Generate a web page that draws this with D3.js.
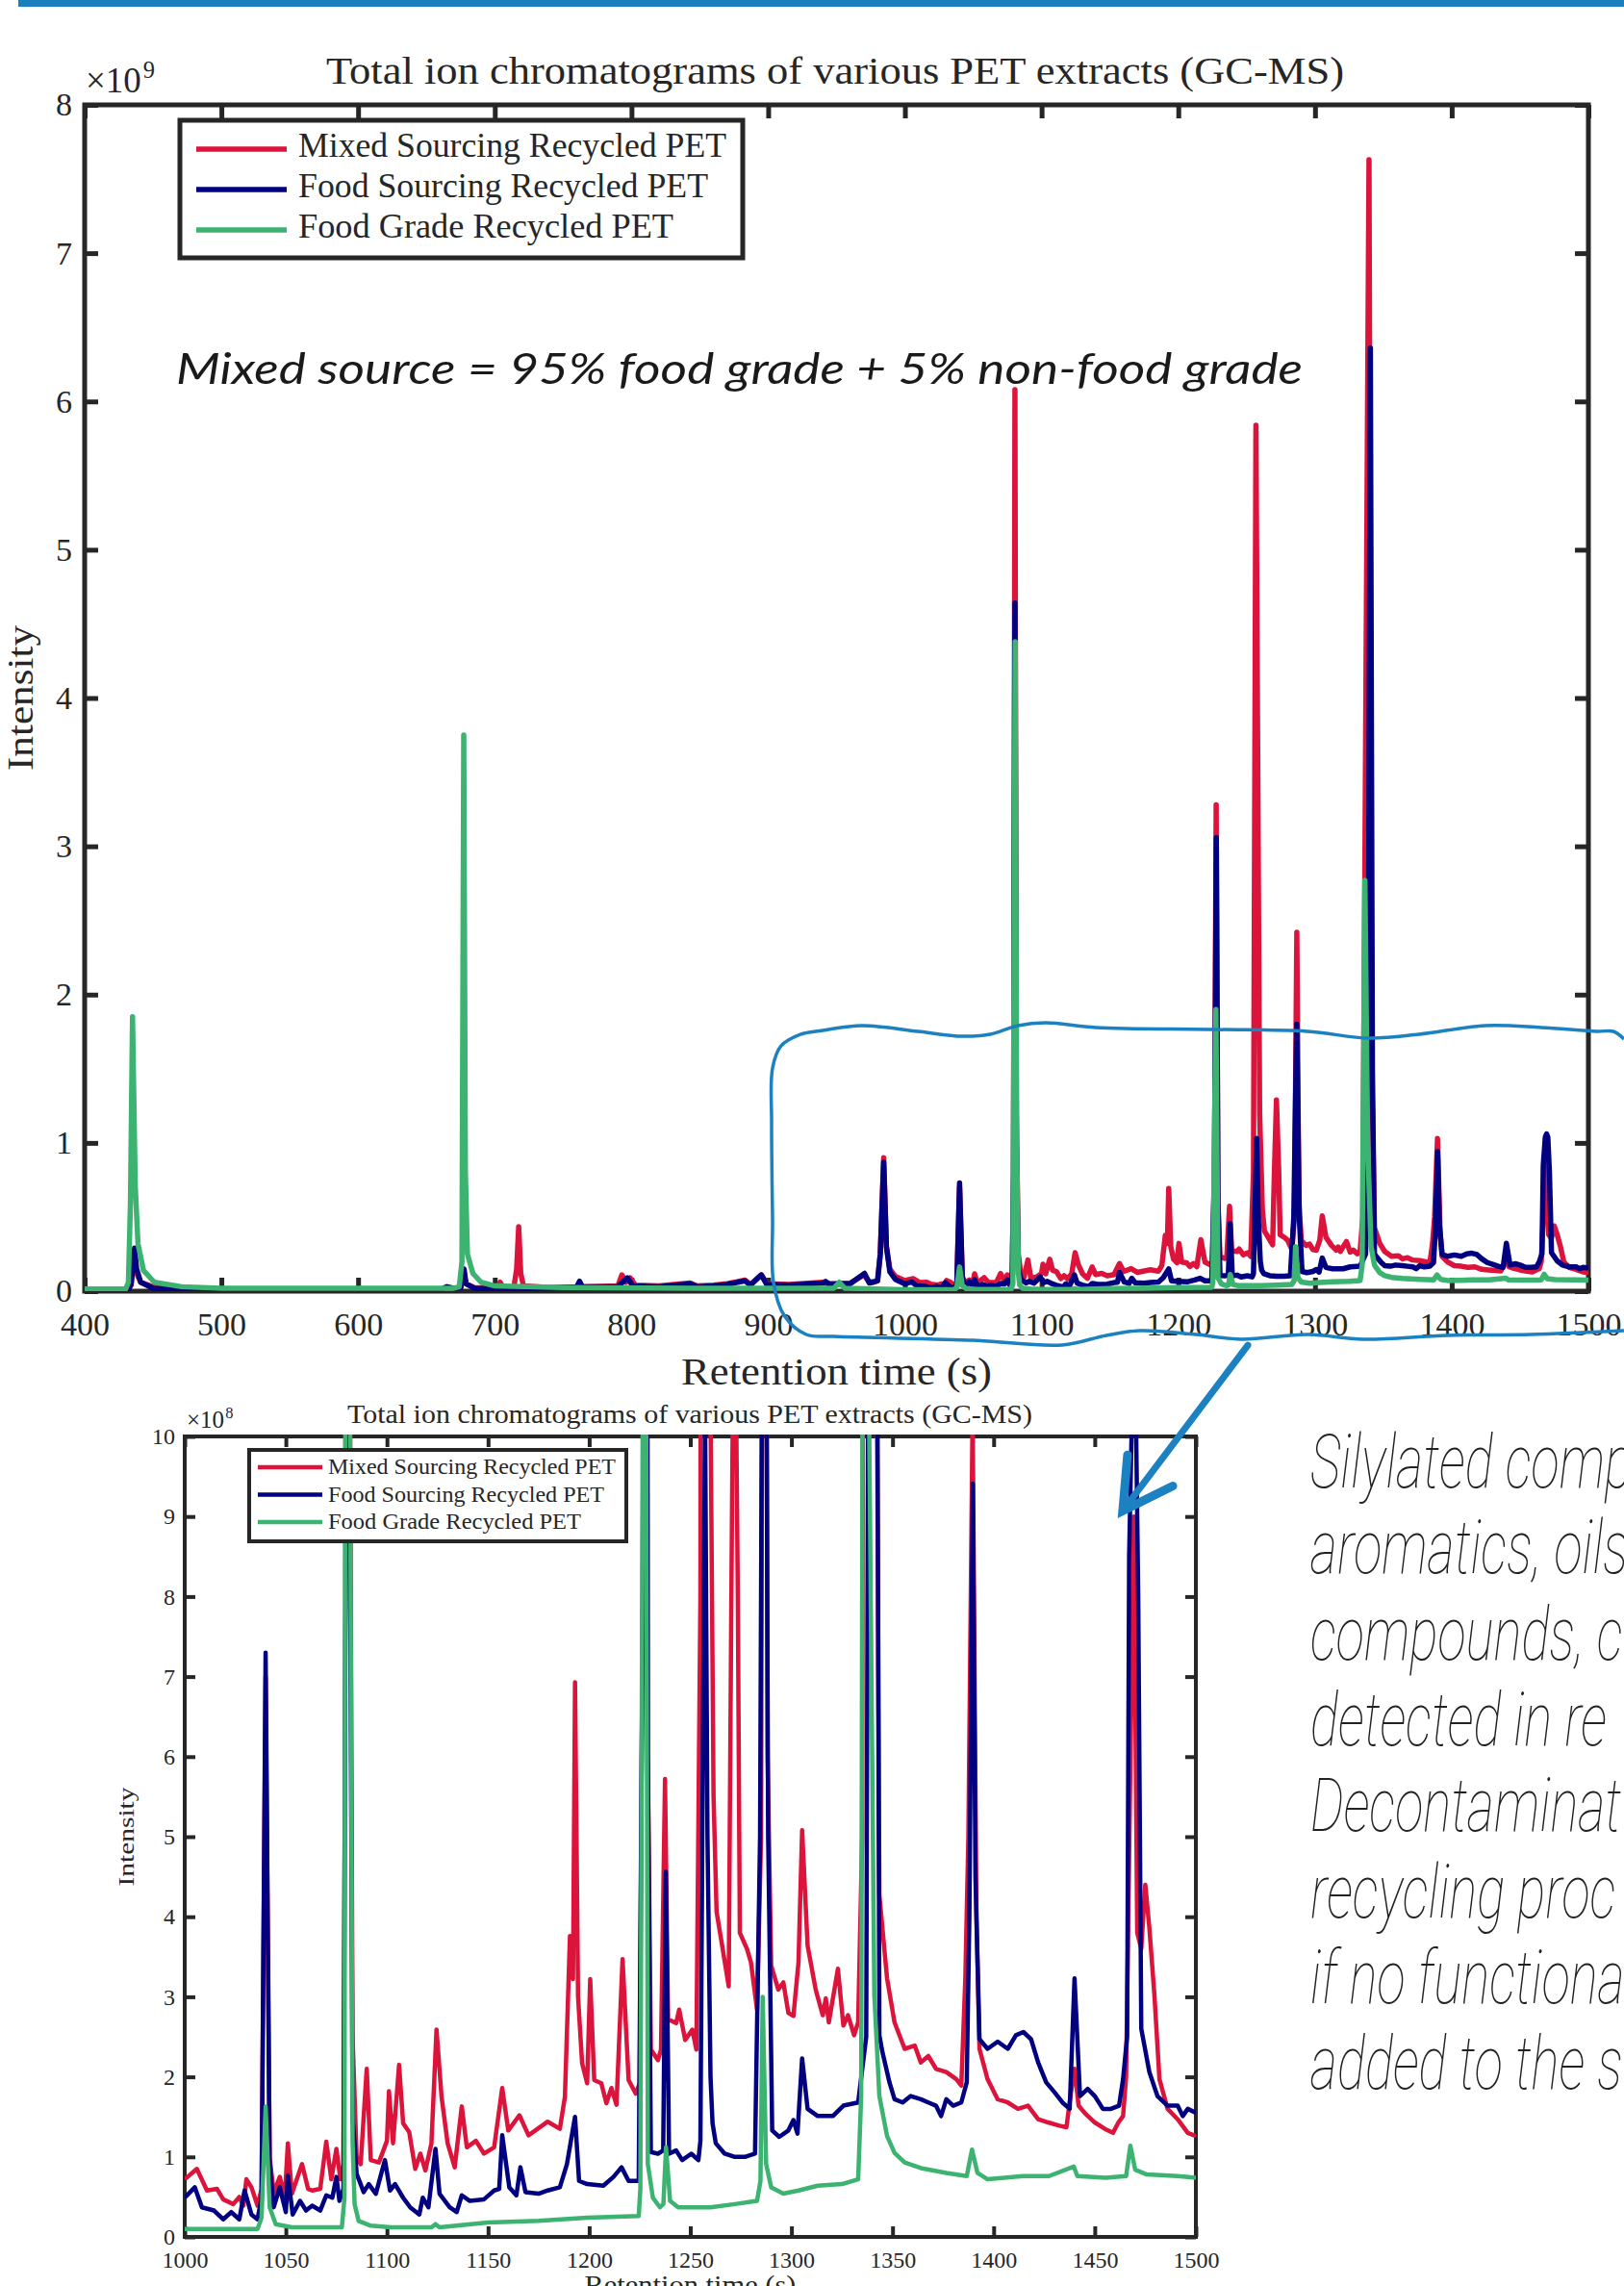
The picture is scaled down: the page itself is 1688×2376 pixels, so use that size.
<!DOCTYPE html>
<meta charset="utf-8">
<style>
  body { margin: 0; background: #fff; }
  svg { display: block; overflow: hidden; }
  .serif { font-family: "Liberation Serif", "DejaVu Serif", serif; fill: #262626; }
  .tick text { font-family: "Liberation Serif", "DejaVu Serif", serif; fill: #262626; }
  .note { font-family: "Lato", "Open Sans", sans-serif; font-style: italic; fill: #1a1a1a; }
  .side { font-family: "Roboto", "Open Sans", sans-serif; font-style: italic; font-weight: 100; fill: #222; }
</style>
<body>
<script src="https://d3js.org/d3.v7.min.js"></script>
<script>
// retention time (s), intensity in units of 1e8 counts
var mixedSourcing = [
  [400,0.1],[430,0.1],[434,0.4],[436,2.5],[438,1.2],[441,0.6],[450,0.3],[480,0.15],[560,0.15],[600,0.12],[660,0.15],
  [675,0.2],[677.5,1.2],[679,0.5],[685,0.25],[700,0.2],[702,0.3],[704,0.6],[706,0.25],[714,0.25],[716,1.5],[717.5,4.35],
  [719,1.2],[721,0.35],[740,0.25],[760,0.3],[762,0.6],[764,0.3],[790,0.35],[793,1.1],[796,0.6],[799,0.9],[803,0.4],
  [820,0.35],[843,0.55],[848,0.35],[860,0.4],[870,0.5],[883,0.75],[887,0.45],[895,1.1],[899,0.5],[915,0.45],[940,0.6],
  [943,0.5],[960,0.55],[970,1.1],[974,0.6],[980,0.7],[982,2.5],[984.5,9.0],[986.5,3],[989,1.5],[993,1.0],
  [1000,0.72],[1006,0.85],[1011,0.58],[1016,0.6],[1019,0.47],[1024,0.41],[1027,0.5],[1029,0.39],[1030.5,0.72],[1033,0.62],
  [1036,0.39],[1038,0.6],[1040,7.0],[1042,1.0],[1044,0.55],[1047,0.75],[1049.5,0.5],[1051,1.17],[1053,0.54],[1058,0.91],
  [1061,0.6],[1063,0.58],[1067,0.6],[1070,1.19],[1072.5,0.72],[1075,1.1],[1077,0.72],[1078.5,0.9],[1079.5,8],[1080.5,60.8],
  [1081.5,12],[1083,2.5],[1085,1.0],[1087,0.91],[1090,2.1],[1092,0.96],[1096,0.93],[1100,1.2],[1101,1.82],[1103,1.17],
  [1106,2.15],[1108,1.42],[1111,1.31],[1114,0.85],[1116.5,1.04],[1119,0.83],[1122,1.17],[1124.5,2.59],[1127,1.75],
  [1130,1.17],[1133.5,0.87],[1137,1.63],[1139.5,1.12],[1144,1.2],[1148,1.04],[1153,1.12],[1157,1.86],[1160,1.33],
  [1165.5,1.52],[1170,1.27],[1179.5,1.44],[1185.5,1.35],[1188,1.75],[1190.5,3.76],[1192,3.22],[1193,6.93],[1194.5,3.0],
  [1196.5,2.17],[1199,1.92],[1200.5,3.22],[1202.5,1.96],[1206,1.92],[1208.5,1.67],[1211,1.86],[1213.5,1.65],[1216.5,3.47],
  [1219.5,1.96],[1223,1.79],[1225,1.92],[1226.5,8],[1227.7,32.8],[1229,6],[1230.5,2.34],[1234,2.21],[1235.5,2.34],
  [1237.5,5.72],[1239,2.72],[1243,2.67],[1244.5,2.84],[1247.5,2.46],[1251,2.59],[1253,2.34],[1255,8],[1256.8,58.4],
  [1259.5,12],[1261.5,5.5],[1263,4.06],[1266,3.6],[1269,3.13],[1270.3,8],[1271.8,12.9],[1273.5,8],[1274.5,3.8],[1278,3.6],
  [1280,3.43],[1283,2.84],[1285,5],[1286.7,24.2],[1288.2,6],[1290,3.39],[1293.5,3.09],[1296,3.18],[1298.5,2.8],[1301,2.76],
  [1303.5,3.43],[1305.3,5.08],[1308,3.64],[1312,3.09],[1315.5,2.77],[1317,2.98],[1318.5,2.68],[1323,3.35],[1325.7,2.64],
  [1328,2.77],[1331,2.52],[1333,2.68],[1335,5],[1339.5,76.3],[1341.5,15],[1343.5,4.27],[1347.3,3.23],[1351,2.68],
  [1356,2.35],[1361,2.39],[1364,2.18],[1367.7,2.26],[1371.5,2.1],[1376.6,2.06],[1381.6,1.97],[1384,1.89],[1386,3.23],
  [1387.5,5],[1389.6,10.3],[1391.5,4],[1393,2.35],[1397,1.97],[1402,1.72],[1407,1.68],[1412,1.6],[1417,1.64],[1422,1.47],
  [1427,1.43],[1432.5,1.39],[1436,1.37],[1438,1.76],[1440,2.1],[1442,1.64],[1445,1.55],[1450,1.43],[1455,1.35],[1459,1.3],
  [1461.7,1.43],[1464,1.51],[1465.5,2.0],[1469.3,9.0],[1471,3.8],[1473,3.6],[1475,4.4],[1477,3.86],[1479.5,3.02],
  [1482,1.97],[1486,1.6],[1491,1.47],[1496,1.3],[1500,1.26]
];

var foodSourcing = [
  [400,0.05],[432,0.05],[434,0.5],[436.5,2.9],[438,1.5],[441,0.6],[450,0.2],[480,0.1],[560,0.1],[660,0.1],[665,0.3],
  [670,0.2],[675,0.2],[677.5,1.5],[679,0.5],[685,0.2],[700,0.15],[740,0.2],[760,0.3],[762,0.67],[764,0.3],[790,0.3],
  [797,0.9],[801,0.35],[820,0.3],[843,0.5],[848,0.3],[860,0.35],[870,0.45],[883,0.7],[887,0.4],[895,1.1],[899,0.45],
  [915,0.4],[940,0.55],[942,0.66],[945,0.45],[960,0.5],[970.5,1.2],[974,0.55],[977,0.6],[980,0.7],[982,2.5],[984.5,8.7],
  [986.5,3],[989,1.3],[993,0.8],
  [1000,0.49],[1005,0.62],[1008.5,0.37],[1014.5,0.33],[1019,0.22],[1023,0.31],[1027,0.22],[1029.6,0.58],[1033,0.28],
  [1036,0.22],[1038,0.49],[1040,7.3],[1042,0.91],[1044,0.37],[1047,0.62],[1050,0.31],[1051,0.77],[1053.4,0.28],[1057,0.45],
  [1060,0.33],[1063,0.39],[1067,0.33],[1070,0.52],[1073,0.49],[1075,0.75],[1076.5,0.45],[1078.5,0.6],[1079.5,8],
  [1080.5,46.4],[1081.5,10],[1083,1.5],[1085,0.79],[1088.5,0.56],[1091,0.66],[1094.5,0.54],[1099,0.96],[1101.5,0.58],
  [1104,0.66],[1108,0.49],[1111.5,0.37],[1116,0.28],[1117.7,0.49],[1120.5,0.37],[1124,1.1],[1126,0.54],[1131,0.37],
  [1134.5,0.31],[1137,0.52],[1141,0.45],[1148,0.47],[1153,0.58],[1155.5,0.6],[1157,1.27],[1160.5,0.62],[1164,0.52],
  [1166,0.87],[1168.5,0.56],[1175,0.54],[1179.5,0.58],[1185.5,0.62],[1189,0.91],[1193,1.5],[1195,0.7],[1199,0.66],
  [1207,0.64],[1212,0.75],[1216,0.87],[1219.5,0.7],[1224.5,0.7],[1226.5,8],[1227.8,30.6],[1229,6],[1230.5,1.06],
  [1234,1.04],[1236.6,1.08],[1237.9,4.56],[1239.5,1.04],[1243,1.08],[1246,0.96],[1250.5,1.04],[1254,0.96],[1255,1.2],
  [1256.2,6],[1257.3,10.3],[1258.5,5],[1260,2.0],[1261,1.42],[1262.6,1.17],[1267,1.04],[1272,1.0],[1277,1.0],[1282,1.04],
  [1284.5,5],[1286.6,18],[1288.5,5],[1290.5,1.33],[1294,1.25],[1298.5,1.33],[1301,1.46],[1303,1.29],[1305.3,2.23],
  [1308,1.6],[1313,1.51],[1320.5,1.51],[1325.7,1.64],[1333,1.68],[1337,2.5],[1339,20],[1340.5,63.6],[1342,15],
  [1343.5,2.52],[1345,2.31],[1348.5,1.93],[1351,1.72],[1355,1.68],[1359,1.76],[1364,1.72],[1367.7,1.68],[1371.5,1.64],
  [1374,1.51],[1376.6,1.72],[1380,1.64],[1384,1.68],[1386.7,1.93],[1388,4],[1389.7,9.41],[1391,4.5],[1393,2.47],
  [1397,2.35],[1402,2.44],[1407,2.35],[1411,2.52],[1414.7,2.56],[1418.5,2.47],[1422,2.18],[1426,1.93],[1430,1.81],
  [1434,1.68],[1437.6,1.6],[1440,3.23],[1442.7,1.76],[1446.5,1.85],[1450,1.76],[1454,1.6],[1458,1.6],[1462,1.64],
  [1464,1.97],[1466,2.5],[1467,8.5],[1468.5,10.4],[1469.4,10.6],[1470.3,10.4],[1471.5,8],[1473,2.6],[1477,2.06],
  [1481,1.76],[1486,1.64],[1491,1.64],[1493.5,1.51],[1496,1.6],[1500,1.55]
];

var foodGrade = [
  [400,0.15],[430,0.15],[432,0.6],[433.5,6],[435,18.5],[437,7.1],[439,3.2],[443,1.4],[451,0.6],[471,0.3],[500,0.2],
  [600,0.2],[670,0.2],[674,0.3],[676,2],[677.3,37.5],[678.5,8],[680,2.5],[684,1.2],[690,0.6],[700,0.35],[750,0.25],
  [850,0.2],[948,0.2],[952,0.6],[956,0.2],
  [1000,0.1],[1036,0.1],[1038,0.24],[1040,1.63],[1042,0.37],[1045,0.16],[1053,0.12],[1077.7,0.12],[1079,0.49],
  [1080.7,43.8],[1081.8,10],[1083,1.2],[1084,0.41],[1086,0.2],[1092,0.14],[1102,0.12],[1122,0.12],[1124,0.16],[1126,0.12],
  [1150,0.18],[1175,0.2],[1199,0.24],[1224.5,0.26],[1225.3,0.6],[1227.5,19],[1229,0.91],[1231.5,0.49],[1235,0.37],
  [1236.7,0.41],[1238,1.12],[1240,0.45],[1244,0.37],[1260,0.37],[1272,0.41],[1283,0.45],[1284.7,0.7],[1285.8,3.0],
  [1287.5,0.91],[1290,0.62],[1296,0.54],[1303.5,0.58],[1313,0.64],[1325,0.66],[1333,0.72],[1334.5,1.76],[1336.5,27.7],
  [1338.5,10],[1341,3.02],[1343.5,1.76],[1347.3,1.26],[1351,1.05],[1356,0.93],[1364,0.86],[1376.6,0.8],[1386.7,0.76],
  [1389.3,1.09],[1392,0.8],[1397,0.72],[1414.7,0.76],[1427.4,0.76],[1439.6,0.88],[1441.4,0.76],[1455.4,0.74],
  [1465.5,0.76],[1467.6,1.14],[1470,0.84],[1475.7,0.78],[1491,0.76],[1500,0.74]
];

var seriesNames = ["Mixed Sourcing Recycled PET", "Food Sourcing Recycled PET", "Food Grade Recycled PET"];
var seriesColors = ["#dc143c", "#000080", "#3cb371"];
var seriesData = [mixedSourcing, foodSourcing, foodGrade];

var chartTitle = "Total ion chromatograms of various PET extracts (GC-MS)";
var xTitle = "Retention time (s)";
var yTitle = "Intensity";

var fullTicksX = [400, 500, 600, 700, 800, 900, 1000, 1100, 1200, 1300, 1400, 1500];
var fullTicksY = [0, 10, 20, 30, 40, 50, 60, 70, 80];       // labelled 0..8 (x10^9)
var zoomTicksX = [1000, 1050, 1100, 1150, 1200, 1250, 1300, 1350, 1400, 1450, 1500];
var zoomTicksY = [0, 1, 2, 3, 4, 5, 6, 7, 8, 9, 10];        // x10^8

var mixNote = "Mixed source = 95% food grade + 5% non-food grade";
var sideNote = ["Silylated comp", "aromatics, oils", "compounds, c", "detected in re",
                "Decontaminat", "recycling proc", "if no functiona", "added to the s"];

// hand drawn highlight, in the full chart's (s, 1e8) coordinates
var outlinePts = [
  [1526,17.0],[1518.3,17.52],[1506.3,17.52],[1465.5,17.78],[1424.7,17.91],[1376.1,17.32],[1339.5,17.06],[1294.5,17.52],
  [1225.5,17.65],[1139.7,17.78],[1103.1,18.1],[1082.7,17.91],[1062.3,17.32],[1041.8,17.19],[1009.5,17.52],[968.6,17.91],
  [939.8,17.58],[923.6,17.32],[909.5,16.55],[903.2,15.05],[902.5,11.36],[903.2,4.87],[903.9,0.58],[911.6,-1.62],
  [927.8,-2.92],[948.2,-3.05],[1050.3,-3.31],[1115,-3.63],[1147.4,-2.98],[1172,-2.66],[1212.9,-2.92],[1245.9,-3.24],
  [1294.5,-2.92],[1335.3,-3.24],[1396.5,-2.98],[1457.8,-2.92],[1526,-2.66]
];
// arrow, in the zoomed chart's (s, 1e8) coordinates
var arrowShaft = [[1525.7,11.14],[1463.8,9.07]];
var arrowHead = [[1466.2,9.77],[1463.8,9.07],[1488.6,9.38]];

var W = 1688, H = 2376;
var accent = "#1b81c1";

var svg = d3.select("body").append("svg")
    .attr("width", W)
    .attr("height", H);

svg.append("rect")
    .attr("x", 19).attr("y", 0)
    .attr("width", W - 19).attr("height", 7)
    .attr("fill", "#1b7fbd");

function drawChart(o) {
  var x = d3.scaleLinear().domain(o.xDomain).range([o.left, o.right]);
  var y = d3.scaleLinear().domain(o.yDomain).range([o.bottom, o.top]);
  var g = svg.append("g");

  g.append("clipPath").attr("id", "clip-" + o.id)
    .append("rect")
      .attr("x", o.left).attr("y", o.top - 2)
      .attr("width", o.right - o.left).attr("height", o.bottom - o.top + 2);

  // axes, ticks pointing inward
  var axes = [
    { a: d3.axisBottom(x).tickValues(o.xTicks).tickFormat(d3.format("d")), t: "translate(0," + o.bottom + ")", pad: o.xPad },
    { a: d3.axisTop(x).tickValues(o.xTicks).tickFormat(""), t: "translate(0," + o.top + ")", pad: 0 },
    { a: d3.axisLeft(y).tickValues(o.yTicks).tickFormat(o.yFormat), t: "translate(" + o.left + ",0)", pad: o.yPad },
    { a: d3.axisRight(y).tickValues(o.yTicks).tickFormat(""), t: "translate(" + o.right + ",0)", pad: 0 }
  ];
  axes.forEach(function(ax) {
    var sel = g.append("g")
        .attr("transform", ax.t)
        .call(ax.a.tickSizeInner(-o.tickLen).tickSizeOuter(0).tickPadding(ax.pad));
    sel.select(".domain").remove();
    sel.selectAll(".tick line").attr("stroke", "#262626").attr("stroke-width", o.axisW);
    sel.selectAll(".tick text").style("font-size", o.fontSize + "px");
  });

  g.append("rect")
      .attr("x", o.left).attr("y", o.top)
      .attr("width", o.right - o.left).attr("height", o.bottom - o.top)
      .attr("fill", "none")
      .attr("stroke", "#262626")
      .attr("stroke-width", o.axisW);

  // exponent
  var ex = g.append("text").attr("class", "serif")
      .attr("x", o.expX).attr("y", o.expY)
      .style("font-size", o.expSize + "px")
      .text("\u00d710");
  ex.append("tspan")
      .attr("dx", o.expSize * 0.05)
      .attr("dy", -o.expSize * 0.4)
      .style("font-size", (o.expSize * 0.66) + "px")
      .text(o.exponent);

  // titles
  g.append("text").attr("class", "serif")
      .attr("x", o.titleX).attr("y", o.titleY)
      .attr("textLength", o.titleLen).attr("lengthAdjust", "spacingAndGlyphs")
      .style("font-size", o.titleSize + "px")
      .text(chartTitle);
  g.append("text").attr("class", "serif")
      .attr("x", (o.left + o.right) / 2).attr("y", o.xLabelY)
      .attr("text-anchor", "middle")
      .attr("textLength", o.xLabelLen).attr("lengthAdjust", "spacingAndGlyphs")
      .style("font-size", o.labelSize + "px")
      .text(xTitle);
  g.append("text").attr("class", "serif")
      .attr("transform", "translate(" + o.yLabelX + "," + (o.top + o.bottom) / 2 + ") rotate(-90)")
      .attr("text-anchor", "middle")
      .attr("textLength", o.yLabelLen).attr("lengthAdjust", "spacingAndGlyphs")
      .style("font-size", o.yLabelSize + "px")
      .text(yTitle);

  // data
  var line = d3.line()
      .x(function(d) { return x(d[0]); })
      .y(function(d) { return y(d[1]); });

  g.append("g")
      .attr("clip-path", "url(#clip-" + o.id + ")")
    .selectAll("path")
      .data(seriesData.map(function(s) { return s.filter(function(d) { return d[0] >= o.xDomain[0] - 5; }); }))
    .enter().append("path")
      .attr("d", line)
      .attr("fill", "none")
      .attr("stroke", function(d, i) { return seriesColors[i]; })
      .attr("stroke-width", o.lw)
      .attr("stroke-linejoin", "round");

  // legend
  var lg = g.append("g");
  lg.append("rect")
      .attr("x", o.legX).attr("y", o.legY)
      .attr("width", o.legW).attr("height", o.legH)
      .attr("fill", "#fff")
      .attr("stroke", "#262626")
      .attr("stroke-width", o.axisW);
  var rows = lg.selectAll(".row")
      .data(seriesNames)
    .enter().append("g")
      .attr("transform", function(d, i) { return "translate(0," + (o.legRow0 + i * o.legGap) + ")"; });
  rows.append("line")
      .attr("x1", o.legLine[0]).attr("x2", o.legLine[1])
      .attr("stroke", function(d, i) { return seriesColors[i]; })
      .attr("stroke-width", o.lw);
  rows.append("text").attr("class", "serif")
      .attr("x", o.legTextX).attr("y", o.legBase)
      .attr("textLength", function(d, i) { return o.legLens[i]; })
      .attr("lengthAdjust", "spacingAndGlyphs")
      .style("font-size", o.legSize + "px")
      .text(function(d) { return d; });

  return { x: x, y: y };
}

var full = drawChart({
  id: "full", left: 88, right: 1651, top: 109, bottom: 1342,
  xDomain: [400, 1500], yDomain: [0, 80], xTicks: fullTicksX, yTicks: fullTicksY,
  yFormat: function(d) { return d / 10; },
  lw: 5.5, axisW: 5, tickLen: 14, fontSize: 34, xPad: 22, yPad: 13,
  exponent: "9", expX: 89, expY: 96, expSize: 37,
  titleX: 339, titleY: 87, titleLen: 1058, titleSize: 41,
  xLabelY: 1439, xLabelLen: 323, labelSize: 41,
  yLabelX: 34, yLabelLen: 151, yLabelSize: 38,
  legX: 187, legY: 125, legW: 585, legH: 143, legRow0: 155, legGap: 42,
  legLine: [204, 298], legTextX: 310, legBase: 8, legLens: [445, 426, 390], legSize: 35
});

var zoom = drawChart({
  id: "zoom", left: 192, right: 1243, top: 1493, bottom: 2325,
  xDomain: [1000, 1500], yDomain: [0, 10], xTicks: zoomTicksX, yTicks: zoomTicksY,
  yFormat: d3.format("d"),
  lw: 4.5, axisW: 4, tickLen: 11, fontSize: 24, xPad: 15, yPad: 10,
  exponent: "8", expX: 194, expY: 1484, expSize: 25,
  titleX: 361, titleY: 1479, titleLen: 712, titleSize: 27,
  xLabelY: 2384, xLabelLen: 220, labelSize: 27,
  yLabelX: 139, yLabelLen: 103, yLabelSize: 24,
  legX: 259, legY: 1507, legW: 392, legH: 95, legRow0: 1525, legGap: 28.5,
  legLine: [268, 335], legTextX: 341, legBase: 7, legLens: [299, 287, 263], legSize: 24
});

// annotations
svg.append("text").attr("class", "note")
    .attr("x", 183).attr("y", 399)
    .attr("textLength", 1171).attr("lengthAdjust", "spacingAndGlyphs")
    .style("font-size", "45px")
    .text(mixNote);

svg.append("path")
    .attr("d", d3.line()
        .x(function(d) { return full.x(d[0]); })
        .y(function(d) { return full.y(d[1]); })
        .curve(d3.curveCatmullRom)(outlinePts))
    .attr("fill", "none")
    .attr("stroke", accent)
    .attr("stroke-width", 3.5);

var zl = d3.line()
    .x(function(d) { return zoom.x(d[0]); })
    .y(function(d) { return zoom.y(d[1]); });
svg.append("path")
    .attr("d", zl(arrowShaft))
    .attr("fill", "none").attr("stroke", accent)
    .attr("stroke-width", 7).attr("stroke-linecap", "round");
svg.append("path")
    .attr("d", zl(arrowHead))
    .attr("fill", "none").attr("stroke", accent)
    .attr("stroke-width", 9).attr("stroke-linecap", "round").attr("stroke-linejoin", "miter");

svg.selectAll(".sideline")
    .data(sideNote)
  .enter().append("text")
    .attr("class", "side")
    .attr("transform", function(d, i) { return "translate(1362," + (1546 + i * 89.3) + ") scale(0.7,1)"; })
    .style("font-size", "78px")
    .text(function(d) { return d; });
</script>
</body>
